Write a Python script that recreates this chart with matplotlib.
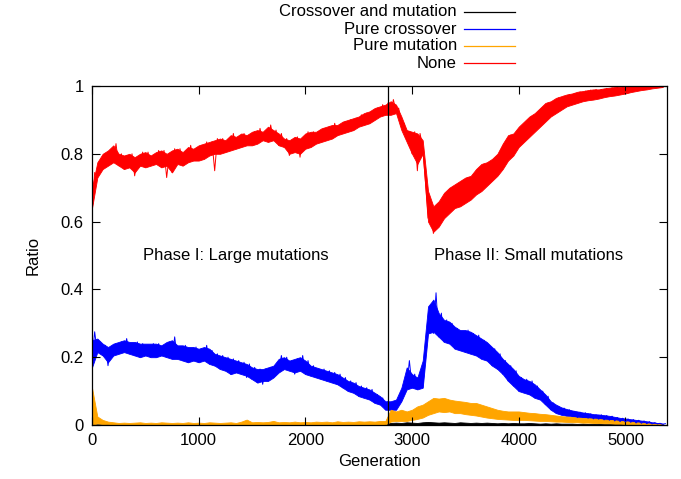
import matplotlib
matplotlib.use("Agg")
import matplotlib.pyplot as plt
from matplotlib.lines import Line2D

plt.rcParams['font.family'] = ['Liberation Sans', 'DejaVu Sans']

# Readings every 50 generations: lower and upper edge of each noisy trace
step = 50
none_low = [
    0.64, 0.73, 0.755, 0.765, 0.775, 0.765, 0.755, 0.76, 0.745, 0.765,
    0.76, 0.765, 0.77, 0.76, 0.765, 0.745, 0.77, 0.765, 0.775, 0.78,
    0.78, 0.785, 0.795, 0.80, 0.80, 0.805, 0.81, 0.815, 0.82, 0.825,
    0.825, 0.83, 0.84, 0.835, 0.84, 0.825, 0.82, 0.80, 0.805, 0.80,
    0.815, 0.82, 0.83, 0.835, 0.84, 0.845, 0.855, 0.86, 0.865, 0.87,
    0.88, 0.885, 0.89, 0.90, 0.91, 0.915, 0.915, 0.92, 0.87, 0.835,
    0.80, 0.77, 0.80, 0.60, 0.57, 0.585, 0.61, 0.625, 0.64, 0.645,
    0.655, 0.665, 0.68, 0.69, 0.705, 0.72, 0.735, 0.755, 0.78, 0.795,
    0.82, 0.835, 0.85, 0.865, 0.88, 0.895, 0.91, 0.92, 0.93, 0.94,
    0.945, 0.95, 0.955, 0.958, 0.96, 0.963, 0.967, 0.97, 0.972, 0.975,
    0.978, 0.982, 0.985, 0.988, 0.99, 0.993, 0.995, 0.997,
]
none_high = [
    0.70, 0.775, 0.80, 0.81, 0.825, 0.80, 0.795, 0.80, 0.79, 0.80,
    0.805, 0.795, 0.805, 0.81, 0.80, 0.81, 0.815, 0.805, 0.82, 0.815,
    0.825, 0.83, 0.835, 0.84, 0.845, 0.84, 0.855, 0.85, 0.86, 0.855,
    0.865, 0.87, 0.865, 0.88, 0.87, 0.86, 0.845, 0.84, 0.85, 0.845,
    0.86, 0.865, 0.865, 0.875, 0.88, 0.885, 0.885, 0.895, 0.90, 0.905,
    0.91, 0.92, 0.925, 0.935, 0.94, 0.945, 0.955, 0.945, 0.91, 0.87,
    0.865, 0.86, 0.84, 0.69, 0.645, 0.66, 0.685, 0.70, 0.71, 0.72,
    0.73, 0.735, 0.755, 0.77, 0.775, 0.785, 0.80, 0.83, 0.855, 0.86,
    0.88, 0.895, 0.91, 0.92, 0.935, 0.95, 0.955, 0.965, 0.97, 0.975,
    0.978, 0.983, 0.985, 0.988, 0.99, 0.99, 0.993, 0.995, 0.997, 0.998,
    0.998, 1.0, 1.0, 1.0, 1.0, 1.0, 1.0, 1.0,
]
pure_crossover_low = [
    0.17, 0.215, 0.205, 0.185, 0.205, 0.21, 0.215, 0.21, 0.205, 0.20,
    0.205, 0.20, 0.20, 0.205, 0.20, 0.195, 0.195, 0.19, 0.185, 0.19,
    0.185, 0.19, 0.18, 0.175, 0.165, 0.16, 0.15, 0.155, 0.15, 0.145,
    0.135, 0.125, 0.13, 0.13, 0.14, 0.155, 0.165, 0.16, 0.155, 0.16,
    0.15, 0.145, 0.14, 0.135, 0.13, 0.125, 0.12, 0.11, 0.10, 0.095,
    0.085, 0.08, 0.075, 0.065, 0.06, 0.045, 0.045, 0.045, 0.07, 0.105,
    0.11, 0.105, 0.11, 0.27, 0.275, 0.26, 0.245, 0.24, 0.225, 0.22,
    0.215, 0.21, 0.205, 0.195, 0.19, 0.175, 0.165, 0.15, 0.13, 0.115,
    0.10, 0.095, 0.09, 0.08, 0.075, 0.06, 0.045, 0.035, 0.03, 0.027,
    0.025, 0.022, 0.022, 0.02, 0.018, 0.017, 0.015, 0.014, 0.012, 0.01,
    0.009, 0.008, 0.006, 0.005, 0.004, 0.003, 0.002, 0.001,
]
pure_crossover_high = [
    0.25, 0.255, 0.24, 0.23, 0.24, 0.245, 0.25, 0.245, 0.245, 0.24,
    0.24, 0.24, 0.24, 0.235, 0.245, 0.25, 0.235, 0.235, 0.23, 0.23,
    0.225, 0.23, 0.225, 0.21, 0.205, 0.20, 0.195, 0.19, 0.185, 0.18,
    0.17, 0.165, 0.165, 0.17, 0.175, 0.195, 0.20, 0.19, 0.195, 0.20,
    0.19, 0.175, 0.17, 0.165, 0.16, 0.155, 0.15, 0.14, 0.13, 0.125,
    0.115, 0.11, 0.105, 0.095, 0.085, 0.07, 0.07, 0.075, 0.11, 0.17,
    0.15, 0.14, 0.19, 0.35, 0.37, 0.33, 0.31, 0.305, 0.29, 0.28,
    0.28, 0.275, 0.265, 0.255, 0.245, 0.23, 0.215, 0.195, 0.18, 0.165,
    0.145, 0.135, 0.13, 0.12, 0.105, 0.09, 0.07, 0.06, 0.052, 0.047,
    0.043, 0.04, 0.037, 0.035, 0.032, 0.031, 0.029, 0.027, 0.024, 0.021,
    0.019, 0.017, 0.015, 0.013, 0.011, 0.008, 0.006, 0.004,
]
pure_mutation_low = [
    0.0, 0.005, 0.003, 0.002, 0.0, 0.0, 0.0, 0.0, 0.0, 0.0,
    0.0, 0.0, 0.0, 0.0, 0.0, 0.0, 0.0, 0.0, 0.0, 0.0,
    0.0, 0.0, 0.0, 0.0, 0.0, 0.0, 0.0, 0.0, 0.0, 0.0,
    0.0, 0.0, 0.0, 0.0, 0.0, 0.0, 0.0, 0.0, 0.0, 0.0,
    0.0, 0.0, 0.0, 0.0, 0.0, 0.0, 0.0, 0.0, 0.0, 0.0,
    0.0, 0.0, 0.0, 0.0, 0.0, 0.002, 0.01, 0.012, 0.012, 0.012,
    0.015, 0.018, 0.022, 0.03, 0.035, 0.04, 0.038, 0.04, 0.035, 0.035,
    0.032, 0.03, 0.028, 0.025, 0.022, 0.02, 0.018, 0.017, 0.016, 0.015,
    0.015, 0.015, 0.014, 0.013, 0.012, 0.012, 0.011, 0.01, 0.01, 0.009,
    0.008, 0.008, 0.007, 0.007, 0.006, 0.006, 0.005, 0.005, 0.004, 0.004,
    0.003, 0.003, 0.002, 0.002, 0.001, 0.001, 0.0, 0.0,
]
pure_mutation_high = [
    0.11, 0.025, 0.015, 0.01, 0.008, 0.006, 0.007, 0.006, 0.007, 0.008,
    0.006, 0.007, 0.006, 0.008, 0.007, 0.006, 0.007, 0.006, 0.008, 0.006,
    0.007, 0.006, 0.008, 0.007, 0.006, 0.007, 0.008, 0.006, 0.01, 0.016,
    0.008, 0.009, 0.008, 0.009, 0.012, 0.008, 0.009, 0.008, 0.01, 0.008,
    0.009, 0.008, 0.01, 0.009, 0.01, 0.008, 0.011, 0.009, 0.01, 0.009,
    0.011, 0.01, 0.011, 0.01, 0.012, 0.012, 0.045, 0.04, 0.045, 0.04,
    0.045, 0.055, 0.06, 0.07, 0.08, 0.078, 0.08, 0.075, 0.072, 0.07,
    0.068, 0.065, 0.065, 0.06, 0.055, 0.05, 0.045, 0.042, 0.04, 0.04,
    0.04, 0.038, 0.036, 0.035, 0.033, 0.032, 0.03, 0.028, 0.026, 0.025,
    0.024, 0.022, 0.021, 0.02, 0.019, 0.018, 0.016, 0.015, 0.014, 0.012,
    0.011, 0.01, 0.008, 0.007, 0.005, 0.004, 0.003, 0.002,
]
crossover_and_mutation_high = [
    0.003, 0.002, 0.002, 0.003, 0.002, 0.002, 0.003, 0.002, 0.002, 0.003,
    0.002, 0.002, 0.003, 0.002, 0.002, 0.003, 0.002, 0.002, 0.003, 0.002,
    0.002, 0.003, 0.002, 0.002, 0.003, 0.002, 0.002, 0.003, 0.002, 0.002,
    0.003, 0.002, 0.002, 0.003, 0.002, 0.002, 0.003, 0.002, 0.002, 0.003,
    0.002, 0.002, 0.003, 0.002, 0.002, 0.003, 0.002, 0.002, 0.003, 0.002,
    0.002, 0.003, 0.002, 0.002, 0.003, 0.004, 0.006, 0.007, 0.006, 0.008,
    0.007, 0.006, 0.008, 0.009, 0.008, 0.007, 0.008, 0.007, 0.006, 0.008,
    0.007, 0.006, 0.007, 0.006, 0.007, 0.006, 0.005, 0.006, 0.005, 0.006,
    0.005, 0.005, 0.006, 0.005, 0.004, 0.005, 0.004, 0.005, 0.004, 0.004,
    0.004, 0.003, 0.004, 0.003, 0.003, 0.004, 0.003, 0.003, 0.003, 0.003,
    0.002, 0.003, 0.002, 0.002, 0.002, 0.002, 0.002, 0.001,
]

# Finer readings (every 25 generations) of the spiky trace lines
trace_step = 25
none_trace = [
    0.62, 0.745, 0.73, 0.775, 0.755, 0.80, 0.765, 0.81,
    0.775, 0.83, 0.765, 0.80, 0.755, 0.795, 0.76, 0.80,
    0.735, 0.79, 0.765, 0.805, 0.76, 0.805, 0.765, 0.795,
    0.77, 0.81, 0.76, 0.81, 0.73, 0.80, 0.745, 0.815,
    0.77, 0.815, 0.765, 0.805, 0.775, 0.825, 0.78, 0.815,
    0.78, 0.825, 0.785, 0.835, 0.795, 0.835, 0.75, 0.845,
    0.80, 0.845, 0.805, 0.84, 0.81, 0.86, 0.815, 0.85,
    0.82, 0.86, 0.825, 0.855, 0.825, 0.865, 0.83, 0.875,
    0.84, 0.865, 0.835, 0.885, 0.84, 0.87, 0.825, 0.86,
    0.82, 0.845, 0.795, 0.84, 0.805, 0.85, 0.79, 0.845,
    0.815, 0.865, 0.82, 0.865, 0.83, 0.865, 0.835, 0.875,
    0.84, 0.88, 0.845, 0.89, 0.855, 0.885, 0.86, 0.895,
    0.865, 0.90, 0.87, 0.905, 0.88, 0.915, 0.885, 0.92,
    0.89, 0.925, 0.90, 0.935, 0.91, 0.945, 0.915, 0.95,
    0.915, 0.96, 0.925, 0.935, 0.88, 0.89, 0.845, 0.865,
    0.80, 0.865, 0.75, 0.86, 0.82, 0.72, 0.61, 0.645,
    0.565, 0.64, 0.60, 0.66, 0.625, 0.685, 0.64, 0.70,
    0.65, 0.71, 0.655, 0.72, 0.66, 0.73, 0.675, 0.735,
    0.69, 0.755, 0.70, 0.77, 0.715, 0.775, 0.73, 0.785,
    0.74, 0.80, 0.76, 0.83, 0.785, 0.855, 0.80, 0.86,
    0.825, 0.88, 0.84, 0.895, 0.855, 0.91, 0.87, 0.92,
    0.885, 0.935, 0.90, 0.95, 0.915, 0.955, 0.925, 0.965,
    0.935, 0.97, 0.945, 0.975, 0.95, 0.978, 0.955, 0.983,
    0.96, 0.985, 0.962, 0.988, 0.965, 0.99, 0.968, 0.99,
    0.97, 0.993, 0.972, 0.995, 0.975, 0.997, 0.978, 0.998,
    0.98, 0.998, 0.985, 1.0, 0.988, 1.0, 0.99, 1.0,
    0.992, 1.0, 0.995, 1.0, 0.997, 1.0, 0.998, 1.0,
]
pure_crossover_trace = [
    0.19, 0.275, 0.215, 0.245, 0.205, 0.235, 0.175, 0.225,
    0.205, 0.24, 0.21, 0.245, 0.215, 0.255, 0.21, 0.24,
    0.205, 0.245, 0.20, 0.24, 0.205, 0.235, 0.20, 0.24,
    0.20, 0.24, 0.205, 0.235, 0.20, 0.245, 0.195, 0.26,
    0.195, 0.23, 0.19, 0.235, 0.185, 0.225, 0.19, 0.23,
    0.185, 0.225, 0.19, 0.235, 0.18, 0.22, 0.175, 0.21,
    0.165, 0.205, 0.16, 0.20, 0.15, 0.195, 0.155, 0.19,
    0.15, 0.185, 0.14, 0.18, 0.135, 0.17, 0.125, 0.165,
    0.12, 0.165, 0.13, 0.17, 0.14, 0.175, 0.155, 0.205,
    0.165, 0.20, 0.16, 0.19, 0.15, 0.195, 0.16, 0.205,
    0.15, 0.19, 0.145, 0.175, 0.14, 0.165, 0.135, 0.165,
    0.13, 0.16, 0.125, 0.155, 0.12, 0.15, 0.11, 0.14,
    0.10, 0.13, 0.095, 0.125, 0.085, 0.115, 0.08, 0.11,
    0.075, 0.105, 0.065, 0.09, 0.06, 0.08, 0.045, 0.07,
    0.05, 0.065, 0.045, 0.08, 0.075, 0.115, 0.11, 0.19,
    0.115, 0.15, 0.105, 0.14, 0.11, 0.20, 0.28, 0.345,
    0.27, 0.39, 0.26, 0.33, 0.245, 0.31, 0.24, 0.30,
    0.225, 0.285, 0.22, 0.275, 0.215, 0.28, 0.21, 0.27,
    0.205, 0.265, 0.195, 0.25, 0.19, 0.235, 0.175, 0.225,
    0.165, 0.21, 0.15, 0.19, 0.13, 0.175, 0.115, 0.16,
    0.10, 0.14, 0.095, 0.135, 0.09, 0.13, 0.08, 0.115,
    0.075, 0.10, 0.06, 0.085, 0.045, 0.065, 0.035, 0.055,
    0.03, 0.05, 0.027, 0.045, 0.025, 0.04, 0.022, 0.038,
    0.022, 0.036, 0.02, 0.033, 0.018, 0.03, 0.017, 0.03,
    0.015, 0.028, 0.014, 0.026, 0.012, 0.022, 0.01, 0.02,
    0.009, 0.018, 0.008, 0.016, 0.006, 0.014, 0.005, 0.012,
    0.004, 0.01, 0.003, 0.007, 0.003, 0.005, 0.002, 0.004,
]

generation = [i * step for i in range(len(none_low))]
trace_generation = [i * trace_step for i in range(len(none_trace))]

series_labels = ["Crossover and mutation", "Pure crossover", "Pure mutation", "None"]
series_colors = ["black", "#0000ff", "#ffa500", "#ff0000"]
phase_boundary = 2775
x_ticks = [0, 1000, 2000, 3000, 4000, 5000]
y_ticks = [0, 0.2, 0.4, 0.6, 0.8, 1]
y_tick_labels = ["0", "0.2", "0.4", "0.6", "0.8", "1"]

W, H = 681, 479
fig = plt.figure(figsize=(W / 100, H / 100), dpi=100)
ax = fig.add_axes([92 / W, 54 / H, 575 / W, 339 / H])

edge = 0.6
ax.fill_between(generation, 0, crossover_and_mutation_high,
                color=series_colors[0], lw=edge)
ax.fill_between(generation, pure_crossover_low, pure_crossover_high,
                color=series_colors[1], lw=edge)
ax.plot(trace_generation, pure_crossover_trace, color=series_colors[1], lw=0.7)
ax.fill_between(generation, pure_mutation_low, pure_mutation_high,
                color=series_colors[2], lw=edge)
ax.fill_between(generation, none_low, none_high,
                color=series_colors[3], lw=edge)
ax.plot(trace_generation, none_trace, color=series_colors[3], lw=0.7)

ax.axvline(phase_boundary, color="black", lw=0.9)
ax.text(1350, 0.5, "Phase I: Large mutations", ha="center", va="center", fontsize=12)
ax.text(4095, 0.5, "Phase II: Small mutations", ha="center", va="center", fontsize=12)

ax.set_xlim(0, 5390)
ax.set_ylim(0, 1)
ax.set_xticks(x_ticks)
ax.set_yticks(y_ticks)
ax.set_yticklabels(y_tick_labels)
ax.tick_params(direction="in", length=6, width=0.8, top=True, right=True,
               labelsize=12, pad=6)
for s in ax.spines.values():
    s.set_linewidth(0.9)
ax.set_xlabel("Generation", fontsize=12, labelpad=4)
ax.set_ylabel("Ratio", fontsize=12, labelpad=14)

# legend block at top (gnuplot style: label right-aligned, sample to its right)
rows_y = [12, 29, 46, 63]
for lab, col, yy in zip(series_labels, series_colors, rows_y):
    fig.text(457 / W, 1 - yy / H, lab, ha="right", va="center", fontsize=12)
    fig.add_artist(Line2D([464 / W, 515 / W], [1 - yy / H, 1 - yy / H],
                          color=col, lw=0.9, transform=fig.transFigure))

fig.savefig("out.png", dpi=100)
